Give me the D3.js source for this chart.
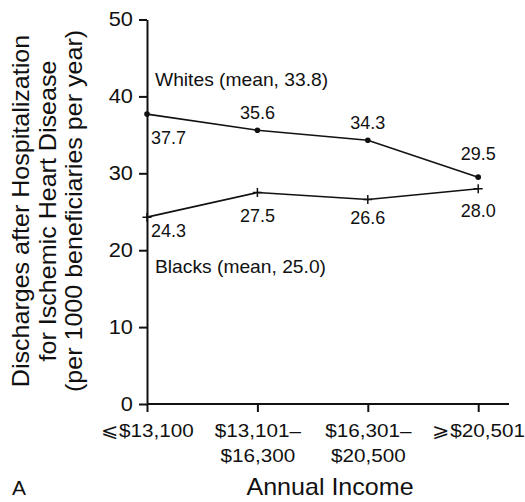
<!DOCTYPE html>
<html>
<head>
<meta charset="utf-8">
<script src="https://cdn.jsdelivr.net/npm/d3@7"></script>
<style>
  html, body { margin: 0; padding: 0; background: #fff; }
  svg { display: block; font-family: "Liberation Sans", Arial, Helvetica, sans-serif; }
</style>
</head>
<body>
<svg id="chart" width="525" height="502"></svg>
<script>
// Income groups (tick labels, one entry per line of each label)
const categories = ["⩽$13,100", "$13,101–\n$16,300", "$16,301–\n$20,500", "⩾$20,501"];
// Discharge rates per 1000 beneficiaries per year
const whites = [37.7, 35.6, 34.3, 29.5];
const blacks = [24.3, 27.5, 26.6, 28.0];
const yTicks = [0, 10, 20, 30, 40, 50];
const whitesName = "Whites (mean, 33.8)";
const blacksName = "Blacks (mean, 25.0)";
const yTitleLines = ["Discharges after Hospitalization", "for Ischemic Heart Disease", "(per 1000 beneficiaries per year)"];
const xTitle = "Annual Income";
const panelLetter = "A";

// Value label placement relative to each point (pixels)
const whitesLabelOffset = [[4, 30, "start"], [0, -11, "middle"], [0, -11, "middle"], [0, -17, "middle"]];
const blacksLabelOffset = [[4, 20, "start"], [0, 29, "middle"], [0, 25, "middle"], [0, 28, "middle"]];

const svg = d3.select("#chart");
const ink = "#111";

const plotLeft = 147, plotRight = 509, plotTop = 19.5, plotBottom = 404;
const step = 110.4;

const x = d3.scalePoint()
  .domain(categories)
  .range([plotLeft, plotLeft + step * (categories.length - 1)]);
const y = d3.scaleLinear().domain([0, 50]).range([plotBottom, plotTop]);

// widen glyphs slightly along the baseline
const SX = 1.09;

// ---- y axis
const yAxis = svg.append("g")
  .attr("transform", `translate(${plotLeft},0)`)
  .call(d3.axisLeft(y).tickValues(yTicks).tickSize(8).tickSizeOuter(0).tickPadding(6));
yAxis.select(".domain").attr("stroke", ink).attr("stroke-width", 2);
yAxis.selectAll(".tick line").attr("stroke", ink).attr("stroke-width", 2);
yAxis.selectAll(".tick text")
  .attr("fill", ink)
  .attr("font-size", 20)
  .attr("font-family", "Liberation Sans, Arial, sans-serif")
  .attr("x", null)
  .attr("transform", `translate(-14,0) scale(${SX},1)`);

// ---- x axis
const xAxis = svg.append("g")
  .attr("transform", `translate(0,${plotBottom})`)
  .call(d3.axisBottom(x).tickSize(8).tickSizeOuter(0).tickFormat(""));
xAxis.select(".domain")
  .attr("d", `M${plotLeft},0H${plotRight}`)
  .attr("stroke", ink).attr("stroke-width", 2);
xAxis.selectAll(".tick line").attr("stroke", ink).attr("stroke-width", 2);
xAxis.selectAll(".tick text").remove();

xAxis.selectAll(".tick").each(function(d) {
  const t = d3.select(this).append("text")
    .attr("fill", ink)
    .attr("font-size", 19)
    .attr("text-anchor", "middle")
    .attr("transform", `translate(0,33) scale(${SX},1)`);
  d.split("\n").forEach((line, i) => {
    t.append("tspan").attr("x", 0).attr("dy", i === 0 ? 0 : 25).text(line);
  });
});

// ---- series lines
const line = d3.line().x((d, i) => x(categories[i])).y(d => y(d));

svg.append("path")
  .datum(whites)
  .attr("d", line)
  .attr("fill", "none").attr("stroke", ink).attr("stroke-width", 1.6);

svg.append("path")
  .datum(blacks)
  .attr("d", line)
  .attr("fill", "none").attr("stroke", ink).attr("stroke-width", 1.6);

// whites: dot markers
svg.append("g").selectAll("circle")
  .data(whites)
  .join("circle")
  .attr("cx", (d, i) => x(categories[i]))
  .attr("cy", d => y(d))
  .attr("r", 2.8)
  .attr("fill", ink);

// blacks: plus markers
const pl = 4.5;
svg.append("g").selectAll("path")
  .data(blacks)
  .join("path")
  .attr("d", (d, i) => {
    const cx = x(categories[i]), cy = y(d);
    return `M${cx - pl},${cy}H${cx + pl}M${cx},${cy - pl}V${cy + pl}`;
  })
  .attr("stroke", ink).attr("stroke-width", 1.5);

// ---- value labels
function valueLabels(values, offsets) {
  svg.append("g").selectAll("text")
    .data(values)
    .join("text")
    .attr("fill", ink)
    .attr("font-size", 17.5)
    .attr("text-anchor", (d, i) => offsets[i][2])
    .attr("transform", (d, i) =>
      `translate(${x(categories[i]) + offsets[i][0]},${y(d) + offsets[i][1]}) scale(1.03,1)`)
    .text(d => d.toFixed(1));
}
valueLabels(whites, whitesLabelOffset);
valueLabels(blacks, blacksLabelOffset);

// ---- series names
svg.append("text")
  .attr("fill", ink).attr("font-size", 17.5)
  .attr("transform", `translate(${plotLeft + 8},${y(41.3)}) scale(1.1,1)`)
  .text(whitesName);
svg.append("text")
  .attr("fill", ink).attr("font-size", 17.5)
  .attr("transform", `translate(${plotLeft + 8},${y(17.05)}) scale(1.1,1)`)
  .text(blacksName);

// ---- axis titles
const yMid = 211;
const titleBaselines = [29, 55.5, 82];
yTitleLines.forEach((txt, i) => {
  svg.append("text")
    .attr("fill", ink)
    .attr("font-size", 23)
    .attr("text-anchor", "middle")
    .attr("transform", `translate(${titleBaselines[i]},${yMid}) rotate(-90) scale(${SX},1)`)
    .text(txt);
});

svg.append("text")
  .attr("fill", ink)
  .attr("font-size", 23)
  .attr("text-anchor", "middle")
  .attr("transform", `translate(${(plotLeft + plotRight) / 2 + 2},495) scale(${SX},1)`)
  .text(xTitle);

svg.append("text")
  .attr("fill", ink)
  .attr("font-size", 21)
  .attr("x", 12).attr("y", 495)
  .text(panelLetter);
</script>
</body>
</html>
